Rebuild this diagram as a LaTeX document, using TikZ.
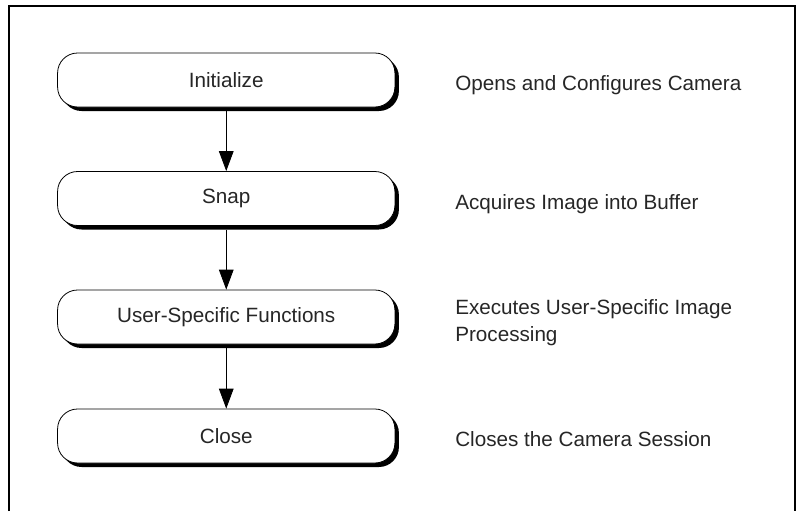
\documentclass[tikz,border=0pt]{standalone}
\usepackage{fontspec}
\setmainfont{Liberation Sans}
\usetikzlibrary{arrows.meta,shadows}
\begin{document}
\begin{tikzpicture}[x=0.75pt, y=-0.75pt,
  txt/.style={font=\fontsize{15.5}{20}\selectfont, text=black!85},
  stage/.style={txt, draw, line width=0.6pt, rounded corners=15pt,
    minimum width=253pt, minimum height=40.5pt, inner sep=0pt, fill=white,
    drop shadow={shadow xshift=3pt, shadow yshift=-3pt, fill=black, opacity=1}},
  note/.style={txt, anchor=base west, align=left, inner sep=0pt},
  flow/.style={line width=0.6pt, -{Triangle[width=11pt,length=15pt]}}]
  \useasboundingbox (0,0) rectangle (800,511);
  % open frame round the chart
  \draw[line width=1.5pt, line join=miter] (9,511) -- (9,6) -- (795,6) -- (795,511);

  % stages
  \node[stage] (init)  at (226.25,80)    {Initialize};
  \node[stage] (snap)  at (226.25,198.5) {Snap};
  \node[stage] (user)  at (226.25,317)   {User-Specific Functions};
  \node[stage] (close) at (226.25,436)   {Close};

  % descriptions, placed on their (last) baselines
  \node[note] (dinit)  at (455,90.5)  {Opens and Configures Camera};
  \node[note] (dsnap)  at (455,209)   {Acquires Image into Buffer};
  \node[note] (duser)  at (455,341)   {Executes User-Specific Image\\Processing};
  \node[note] (dclose) at (455,446.5) {Closes the Camera Session};

  % flow between stages
  \draw[flow] ([yshift=-3pt]init.south) -- (snap.north);
  \draw[flow] ([yshift=-3pt]snap.south) -- (user.north);
  \draw[flow] ([yshift=-3pt]user.south) -- (close.north);
\end{tikzpicture}
\end{document}
